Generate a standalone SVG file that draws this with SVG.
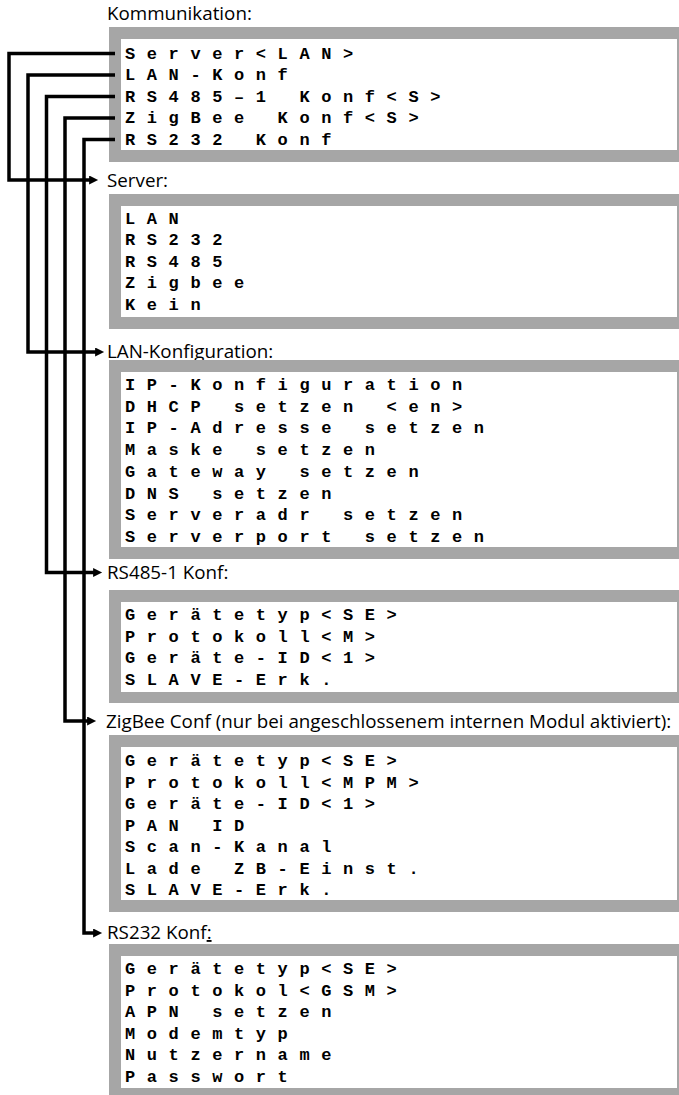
<svg xmlns="http://www.w3.org/2000/svg" width="679" height="1095" viewBox="0 0 679 1095">
<style>
.frame{fill:#a6a6a6}
.inner{fill:#ffffff}
.lbl{font-family:"Open Sans","Noto Sans",sans-serif;font-size:18.8px;fill:#000}
.mono{font-family:"Liberation Mono","Courier New",monospace;font-weight:bold;font-size:17px;letter-spacing:11.6px;fill:#000}
.conn{fill:none;stroke:#000;stroke-width:3.5;stroke-linejoin:miter;marker-end:url(#arr)}
</style>
<defs>
<marker id="arr" viewBox="0 0 10 10" refX="1" refY="5" markerWidth="11" markerHeight="9" markerUnits="userSpaceOnUse" orient="auto">
<path d="M0,0 L10,5 L0,10 z" fill="#000"/>
</marker>
</defs>
<rect width="679" height="1095" fill="#fff"/>

<g id="kommunikation">
<text class="lbl" x="107" y="20">Kommunikation:</text>
<rect class="frame" x="109" y="27" width="580" height="135"/>
<rect class="inner" x="121" y="39" width="556" height="111"/>
<text class="mono" x="125" y="58.5">Server&lt;LAN&gt;</text>
<text class="mono" x="125" y="80">LAN-Konf</text>
<text class="mono" x="125" y="101.5">RS485–1 Konf&lt;S&gt;</text>
<text class="mono" x="125" y="123">ZigBee Konf&lt;S&gt;</text>
<text class="mono" x="125" y="144.5">RS232 Konf</text>
</g>

<g id="server">
<text class="lbl" x="107" y="187">Server:</text>
<rect class="frame" x="109" y="194" width="580" height="135"/>
<rect class="inner" x="121" y="206" width="556" height="111"/>
<text class="mono" x="125" y="223.5">LAN</text>
<text class="mono" x="125" y="245">RS232</text>
<text class="mono" x="125" y="266.5">RS485</text>
<text class="mono" x="125" y="288">Zigbee</text>
<text class="mono" x="125" y="309.5">Kein</text>
</g>

<g id="lan-konfiguration">
<text class="lbl" x="107" y="358">LAN-Konfiguration:</text>
<rect class="frame" x="109" y="360" width="580" height="199"/>
<rect class="inner" x="121" y="372" width="556" height="175"/>
<text class="mono" x="125" y="390">IP-Konfiguration</text>
<text class="mono" x="125" y="411.7">DHCP setzen &lt;en&gt;</text>
<text class="mono" x="125" y="433.4">IP-Adresse setzen</text>
<text class="mono" x="125" y="455.1">Maske setzen</text>
<text class="mono" x="125" y="476.8">Gateway setzen</text>
<text class="mono" x="125" y="498.5">DNS setzen</text>
<text class="mono" x="125" y="520.2">Serveradr setzen</text>
<text class="mono" x="125" y="541.9">Serverport setzen</text>
</g>

<g id="rs485-konf">
<text class="lbl" x="107" y="579">RS485-1 Konf:</text>
<rect class="frame" x="109" y="590" width="580" height="113"/>
<rect class="inner" x="121" y="602" width="556" height="90"/>
<text class="mono" x="125" y="620">Gerätetyp&lt;SE&gt;</text>
<text class="mono" x="125" y="641.5">Protokoll&lt;M&gt;</text>
<text class="mono" x="125" y="663">Geräte-ID&lt;1&gt;</text>
<text class="mono" x="125" y="684.5">SLAVE-Erk.</text>
</g>

<g id="zigbee-conf">
<text class="lbl" x="106" y="728">ZigBee Conf (nur bei angeschlossenem internen Modul aktiviert):</text>
<rect class="frame" x="109" y="735" width="580" height="177"/>
<rect class="inner" x="121" y="747" width="556" height="153"/>
<text class="mono" x="125" y="766">Gerätetyp&lt;SE&gt;</text>
<text class="mono" x="125" y="787.5">Protokoll&lt;MPM&gt;</text>
<text class="mono" x="125" y="809">Geräte-ID&lt;1&gt;</text>
<text class="mono" x="125" y="830.5">PAN ID</text>
<text class="mono" x="125" y="852">Scan-Kanal</text>
<text class="mono" x="125" y="873.5">Lade ZB-Einst.</text>
<text class="mono" x="125" y="895">SLAVE-Erk.</text>
</g>

<g id="rs232-konf">
<text class="lbl" x="107" y="939">RS232 Konf<tspan text-decoration="underline">:</tspan></text>
<rect class="frame" x="109" y="944" width="580" height="160"/>
<rect class="inner" x="121" y="956" width="556" height="132"/>
<text class="mono" x="125" y="974">Gerätetyp&lt;SE&gt;</text>
<text class="mono" x="125" y="995.5">Protokol&lt;GSM&gt;</text>
<text class="mono" x="125" y="1017">APN setzen</text>
<text class="mono" x="125" y="1038.5">Modemtyp</text>
<text class="mono" x="125" y="1060">Nutzername</text>
<text class="mono" x="125" y="1081.5">Passwort</text>
</g>

<g id="connectors">
<path class="conn" d="M115,53.5 H9 V180 H90"/>
<path class="conn" d="M115,75 H28 V352 H96"/>
<path class="conn" d="M115,96.5 H46.5 V572.5 H94"/>
<path class="conn" d="M115,118 H65 V721 H88"/>
<path class="conn" d="M115,139.5 H84 V933 H94"/>
</g>
</svg>
